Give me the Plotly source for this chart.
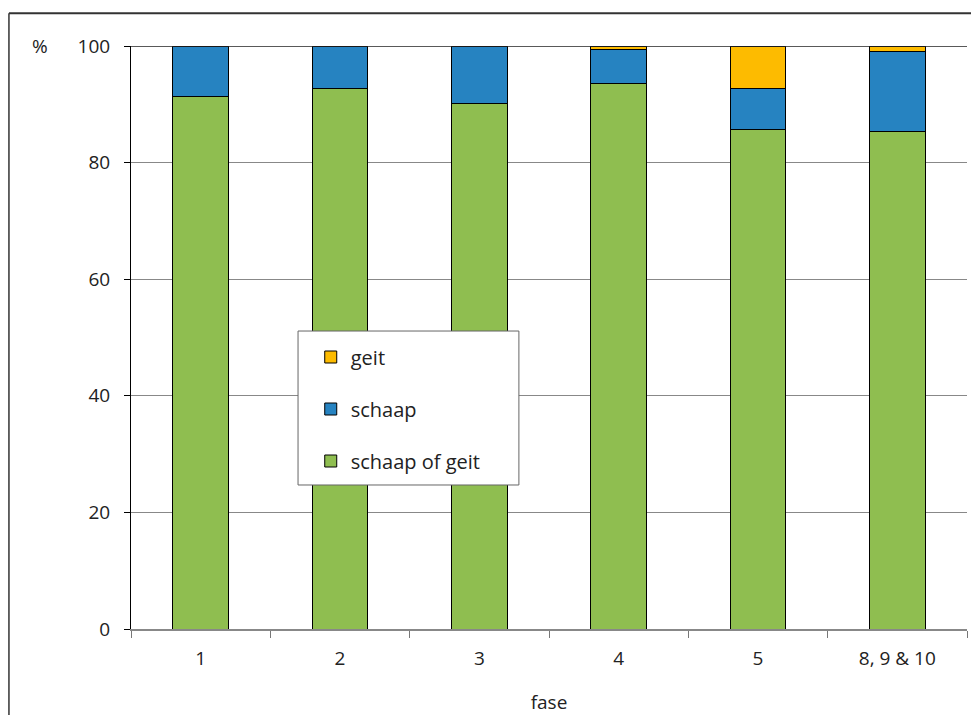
import plotly.graph_objects as go

categories = ["1", "2", "3", "4", "5", "8, 9 & 10"]
schaap_of_geit = [91.4, 92.7, 90.1, 93.6, 85.6, 85.3]
schaap = [8.6, 7.3, 9.9, 5.8, 7.1, 13.7]
geit = [0.0, 0.0, 0.0, 0.6, 7.3, 1.0]
y_ticks = [0, 20, 40, 60, 80, 100]

FONT = "Open Sans, Noto Sans, sans-serif"
line = dict(color="black", width=1)

fig = go.Figure()
fig.add_trace(go.Bar(x=categories, y=schaap_of_geit, name="schaap of geit",
                     marker=dict(color="#8fbe50", line=line), legendgroup="a",
                     legendrank=3))
fig.add_trace(go.Bar(x=categories, y=schaap, name="schaap",
                     marker=dict(color="#2683c1", line=line), legendgroup="b",
                     legendrank=2))
fig.add_trace(go.Bar(x=categories, y=geit, name="geit",
                     marker=dict(color="#fdbb00", line=line), legendgroup="c",
                     legendrank=1))

fig.update_layout(
    barmode="stack",
    bargap=0.6,
    width=963, height=707,
    margin=dict(l=123, r=4, t=38, b=86),
    plot_bgcolor="white", paper_bgcolor="white",
    font=dict(family=FONT, size=19, color="#222"),
    showlegend=True,
    legend=dict(x=0.215, y=0.50, xanchor="left", yanchor="top",
                traceorder="grouped", tracegroupgap=23,
                borderwidth=0, bgcolor="rgba(0,0,0,0)",
                font=dict(size=20, family=FONT, color="#222"),
                itemwidth=30),
    xaxis=dict(title=dict(text="fase", standoff=26, font=dict(size=19)),
               showline=True, linecolor="#888", linewidth=1.5,
               ticks="outside", tickson="boundaries", ticklen=7,
               tickcolor="#777", showgrid=False, range=[-0.5, 5.5],
               ticklabelstandoff=11),
    yaxis=dict(range=[0, 100], tickvals=y_ticks, showline=True,
               linecolor="black", linewidth=1, ticks="outside", ticklen=6,
               tickcolor="black", showgrid=True, gridcolor="#888",
               gridwidth=1, zeroline=False, ticklabelstandoff=10),
    shapes=[
        dict(type="line", xref="paper", yref="paper", x0=-0.146, x1=1.2,
             y0=1.056, y1=1.056, line=dict(color="#333", width=2)),
        dict(type="line", xref="paper", yref="paper", x0=-0.146, x1=-0.146,
             y0=1.056, y1=-0.3, line=dict(color="#333", width=1.5)),
        dict(type="line", xref="paper", yref="y", x0=0, x1=1, y0=100, y1=100,
             line=dict(color="#222", width=1.5)),
        dict(type="rect", xref="paper", yref="paper", x0=0.1998, x1=0.464,
             y0=0.247, y1=0.5111, fillcolor="white", layer="above",
             line=dict(color="#666", width=1)),
    ],
    annotations=[
        dict(text="%", xref="paper", yref="y", x=-0.109, y=100, xanchor="center",
             yanchor="middle", showarrow=False, font=dict(size=19, family=FONT))
    ],
)

fig.write_html("out.html")
